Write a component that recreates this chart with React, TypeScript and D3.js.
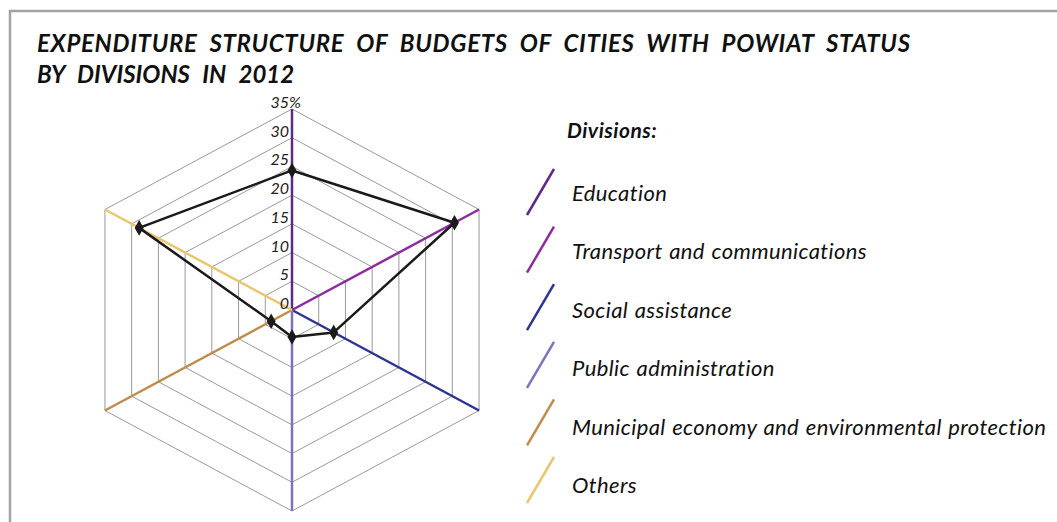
import React, { useEffect, useRef } from 'react';
import * as d3 from 'd3';

// Divisions, clockwise from the top axis
const divisions: string[] = [
  'Education',
  'Transport and communications',
  'Social assistance',
  'Public administration',
  'Municipal economy and environmental protection',
  'Others',
];
// Share of expenditure, %
const shares: number[] = [24.3, 30.4, 7.8, 4.7, 3.9, 28.6];
const axisColors: string[] = ['#5f2a86', '#8c2c9f', '#2c3494', '#7b72c2', '#c08b4c', '#eac66c'];
const ticks: number[] = [0, 5, 10, 15, 20, 25, 30, 35];

const titleLines = [
  'EXPENDITURE STRUCTURE OF BUDGETS OF CITIES WITH POWIAT STATUS',
  'BY DIVISIONS IN 2012',
];

const W = 1057;
const H = 522;
const FONT = 'Lato, "Open Sans", sans-serif';

export default function App() {
  const svgRef = useRef<SVGSVGElement | null>(null);

  useEffect(() => {
    const svg = d3.select(svgRef.current);
    svg.selectAll('*').remove();

    const cx = 292;
    const cy = 310;
    // the source image is a bit stretched horizontally
    const rX = d3.scaleLinear().domain([0, 35]).range([0, 216]);
    const rY = d3.scaleLinear().domain([0, 35]).range([0, 201]);
    const angle = d3.scaleLinear().domain([0, divisions.length]).range([0, 2 * Math.PI]);
    const pt = (i: number, v: number): [number, number] => {
      const a = angle(i);
      return [cx + rX(v) * Math.sin(a), cy - rY(v) * Math.cos(a)];
    };

    // frame
    svg.append('rect')
      .attr('x', 10).attr('y', 11)
      .attr('width', W + 20).attr('height', H + 20)
      .attr('fill', 'none')
      .attr('stroke', '#a3a3a3')
      .attr('stroke-width', 2.5);

    // title
    const title = svg.append('g')
      .attr('font-family', FONT)
      .attr('font-weight', 700)
      .attr('font-style', 'italic')
      .attr('font-size', 24)
      .attr('fill', '#111');
    title.append('text').attr('x', 37).attr('y', 52)
      .attr('textLength', 873).attr('lengthAdjust', 'spacing')
      .style('word-spacing', '6px')
      .text(titleLines[0]);
    title.append('text').attr('x', 37).attr('y', 83)
      .style('word-spacing', '7px')
      .text(titleLines[1]);

    const g = svg.append('g');

    // grid rings
    ticks.filter(t => t > 0).forEach(t => {
      const pts = divisions.map((_, i) => pt(i, t));
      g.append('path')
        .attr('d', d3.line()(pts.concat([pts[0]])) as string)
        .attr('fill', 'none')
        .attr('stroke', '#9a9a9a')
        .attr('stroke-width', 1);
    });

    // radial axes
    divisions.forEach((_, i) => {
      const [x2, y2] = pt(i, 35);
      g.append('line')
        .attr('x1', cx).attr('y1', cy)
        .attr('x2', x2).attr('y2', y2)
        .attr('stroke', axisColors[i])
        .attr('stroke-width', 2.5);
    });

    // tick labels
    const tl = g.append('g')
      .attr('font-family', FONT)
      .attr('font-style', 'italic')
      .attr('font-size', 16)
      .attr('fill', '#222');
    ticks.forEach(t => {
      const y = cy - rY(t) - 1;
      tl.append('text')
        .attr('x', cx - 3).attr('y', y)
        .attr('text-anchor', 'end')
        .text(String(t));
      if (t === 35) {
        tl.append('text').attr('x', cx - 3).attr('y', y).text('%');
      }
    });

    // data polygon
    const dataPts = shares.map((v, i) => pt(i, v));
    g.append('path')
      .attr('d', d3.line()(dataPts.concat([dataPts[0]])) as string)
      .attr('fill', 'none')
      .attr('stroke', '#1a1a1a')
      .attr('stroke-width', 2.5)
      .attr('stroke-linejoin', 'round');
    g.selectAll('path.marker')
      .data(dataPts)
      .enter()
      .append('path')
      .attr('class', 'marker')
      .attr('transform', d => `translate(${d[0]},${d[1]})`)
      .attr('d', d3.symbol(d3.symbolDiamond, 70)() as string)
      .attr('fill', '#1a1a1a');

    // legend
    const lg = svg.append('g')
      .attr('font-family', FONT)
      .attr('font-style', 'italic')
      .attr('fill', '#111');
    lg.append('text')
      .attr('x', 567).attr('y', 138)
      .attr('font-weight', 700)
      .attr('font-size', 21)
      .style('letter-spacing', '0.5px')
      .text('Divisions:');
    const lineY = d3.scaleLinear().domain([0, divisions.length - 1]).range([215, 503]);
    const textY = d3.scaleLinear().domain([0, divisions.length - 1]).range([201, 493]);
    divisions.forEach((name, i) => {
      const yb = lineY(i);
      lg.append('line')
        .attr('x1', 527).attr('y1', yb)
        .attr('x2', 554).attr('y2', yb - 46)
        .attr('stroke', axisColors[i])
        .attr('stroke-width', 2.5);
      lg.append('text')
        .attr('x', 572).attr('y', textY(i))
        .attr('font-size', 22)
        .style('letter-spacing', '0.4px')
        .style('word-spacing', '1px')
        .text(name);
    });
  }, []);

  return (
    <svg
      ref={svgRef}
      width={W}
      height={H}
      style={{ position: 'absolute', left: 0, top: 0, background: '#fff' }}
    />
  );
}
